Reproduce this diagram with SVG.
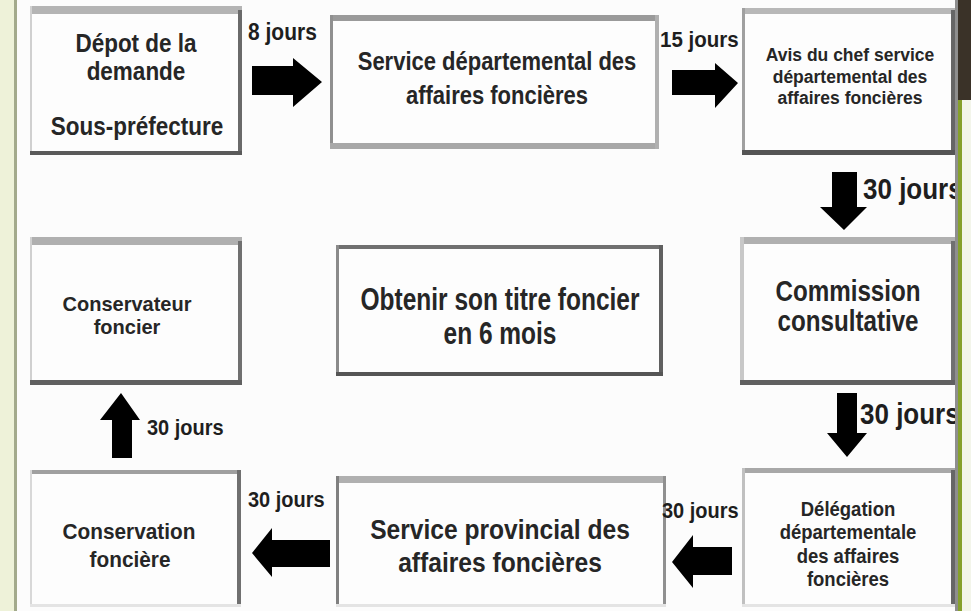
<svg xmlns="http://www.w3.org/2000/svg" width="971" height="611" viewBox="0 0 971 611">
<style>
.t{font-family:"Liberation Sans",Arial,sans-serif;font-weight:bold;fill:#262626;text-anchor:middle}
.l{font-family:"Liberation Sans",Arial,sans-serif;font-weight:bold;fill:#1e1e1e}
.box{fill:#fdfdfd}
.arr{fill:#000}
</style>
<rect x="0" y="0" width="971" height="611" fill="#fcfcfc"/>

<g id="n-depot">
<rect class="box" x="30" y="6" width="212" height="149"/>
<rect x="30" y="6" width="212" height="8" fill="#b4b4b4"/>
<rect x="30" y="6" width="2" height="149" fill="#d0d0d0"/>
<rect x="238" y="10" width="4" height="145" fill="#6a6a6a"/>
<rect x="30" y="151" width="212" height="4" fill="#5a5a5a"/>
<text class="t" font-size="22.5" transform="translate(136 52) scale(1 1.15)">Dépot de la</text>
<text class="t" font-size="22.5" transform="translate(136 80) scale(1 1.15)">demande</text>
<text class="t" font-size="22.5" transform="translate(137 135) scale(1 1.15)">Sous-préfecture</text>
</g>

<g id="n-sdaf">
<rect class="box" x="330" y="15" width="329" height="134"/>
<rect x="330" y="15" width="329" height="6" fill="#9a9a9a"/>
<rect x="330" y="15" width="3" height="134" fill="#909090"/>
<rect x="330" y="143" width="329" height="6" fill="#a8a8a8"/>
<rect x="655" y="15" width="4" height="134" fill="#b0b0b0"/>
<text class="t" font-size="22" transform="translate(497 70) scale(1 1.15)">Service départemental des</text>
<text class="t" font-size="22" transform="translate(497 104) scale(1 1.15)">affaires foncières</text>
</g>

<g id="n-avis">
<rect class="box" x="742" y="8" width="213" height="147"/>
<rect x="742" y="8" width="213" height="6" fill="#b8b8b8"/>
<rect x="742" y="8" width="3" height="147" fill="#a0a0a0"/>
<rect x="951" y="10" width="4" height="145" fill="#666"/>
<rect x="742" y="150" width="213" height="5" fill="#555"/>
<text class="t" font-size="17.5" transform="translate(850 61) scale(1 1.05)">Avis du chef service</text>
<text class="t" font-size="17.5" transform="translate(850 82.5) scale(1 1.05)">départemental des</text>
<text class="t" font-size="17.5" transform="translate(850 104) scale(1 1.05)">affaires foncières</text>
</g>

<g id="n-conservateur">
<rect class="box" x="30" y="237" width="212" height="148"/>
<rect x="30" y="237" width="212" height="8" fill="#b0b0b0"/>
<rect x="30" y="237" width="2" height="148" fill="#d0d0d0"/>
<rect x="238" y="241" width="4" height="144" fill="#707070"/>
<rect x="30" y="380" width="212" height="5" fill="#606060"/>
<text class="t" font-size="20" transform="translate(127 311) scale(1 1.05)">Conservateur</text>
<text class="t" font-size="20" transform="translate(127 334) scale(1 1.05)">foncier</text>
</g>

<g id="n-titre">
<rect class="box" x="336" y="245" width="327" height="131"/>
<rect x="336" y="245" width="327" height="4" fill="#707070"/>
<rect x="336" y="245" width="3" height="131" fill="#8a8a8a"/>
<rect x="659" y="245" width="4" height="131" fill="#606060"/>
<rect x="336" y="372" width="327" height="4" fill="#555"/>
<text class="t" font-size="24.5" transform="translate(500 310) scale(1 1.3)">Obtenir son titre foncier</text>
<text class="t" font-size="24.5" transform="translate(500 344) scale(1 1.3)">en 6 mois</text>
</g>

<g id="n-commission">
<rect class="box" x="740" y="237" width="215" height="148"/>
<rect x="740" y="237" width="215" height="7" fill="#b0b0b0"/>
<rect x="740" y="237" width="4" height="148" fill="#c8c8c8"/>
<rect x="951" y="241" width="4" height="144" fill="#707070"/>
<rect x="740" y="380" width="215" height="5" fill="#606060"/>
<text class="t" font-size="24.2" transform="translate(848 301) scale(1 1.2)">Commission</text>
<text class="t" font-size="24.2" transform="translate(848 331) scale(1 1.2)">consultative</text>
</g>

<g id="n-conservation">
<rect class="box" x="30" y="470" width="211" height="137"/>
<rect x="30" y="470" width="211" height="4" fill="#a0a0a0"/>
<rect x="30" y="470" width="2" height="137" fill="#d8d8d8"/>
<rect x="237" y="470" width="4" height="137" fill="#707070"/>
<rect x="30" y="604" width="211" height="3" fill="#e4e4e4"/>
<text class="t" font-size="20.8" transform="translate(129 539) scale(1 1.1)">Conservation</text>
<text class="t" font-size="20.8" transform="translate(130 567) scale(1 1.1)">foncière</text>
</g>

<g id="n-provincial">
<rect class="box" x="336" y="476" width="330" height="131"/>
<rect x="336" y="476" width="330" height="7" fill="#b0b0b0"/>
<rect x="336" y="476" width="3" height="131" fill="#808080"/>
<rect x="663" y="476" width="3" height="131" fill="#909090"/>
<rect x="336" y="604" width="330" height="3" fill="#e4e4e4"/>
<text class="t" font-size="24.6" transform="translate(500 539) scale(1 1.1)">Service provincial des</text>
<text class="t" font-size="24.6" transform="translate(500 572) scale(1 1.1)">affaires foncières</text>
</g>

<g id="n-delegation">
<rect class="box" x="742" y="468" width="213" height="139"/>
<rect x="742" y="468" width="213" height="5" fill="#a8a8a8"/>
<rect x="742" y="468" width="3" height="139" fill="#c0c0c0"/>
<rect x="951" y="470" width="4" height="137" fill="#666"/>
<rect x="742" y="604" width="213" height="3" fill="#e4e4e4"/>
<text class="t" font-size="18.5" transform="translate(848 516) scale(1 1.05)">Délégation</text>
<text class="t" font-size="18.5" transform="translate(848 539) scale(1 1.05)">départementale</text>
<text class="t" font-size="18.5" transform="translate(848 563) scale(1 1.05)">des affaires</text>
<text class="t" font-size="18.5" transform="translate(848 586) scale(1 1.05)">foncières</text>
</g>

<g id="connectors">
<polygon class="arr" points="252,66 293,66 293,58 322,82 293,107 293,95 252,95"/>
<text class="l" font-size="21" transform="translate(248 40) scale(1 1.1)">8 jours</text>
<polygon class="arr" points="672,70 715,70 715,63 738,83 715,108 715,95 672,95"/>
<text class="l" font-size="20.5" transform="translate(660 47) scale(1 1.1)">15 jours</text>
<polygon class="arr" points="832,172 857,172 857,207 867,207 844,230 820,207 832,207"/>
<text class="l" font-size="26" transform="translate(863 199) scale(1 1.1)">30 jours</text>
<polygon class="arr" points="837,393 857,393 857,433 867,433 847,457 827,433 837,433"/>
<text class="l" font-size="26" transform="translate(860 424) scale(1 1.1)">30 jours</text>
<polygon class="arr" points="732,547 693,547 693,535 672,562 693,588 693,575 732,575"/>
<text class="l" font-size="20" transform="translate(662 518) scale(1 1.1)">30 jours</text>
<polygon class="arr" points="330,540 272,540 272,528 252,553 272,577 272,567 330,567"/>
<text class="l" font-size="20" transform="translate(248 507) scale(1 1.1)">30 jours</text>
<polygon class="arr" points="112,458 132,458 132,420 140,420 121,393 100,420 112,420"/>
<text class="l" font-size="20" transform="translate(147 435) scale(1 1.1)">30 jours</text>
</g>

<g id="frame">
<rect x="0" y="0" width="15" height="611" fill="#eef2d9"/>
<rect x="14" y="0" width="3" height="611" fill="#a3aa8c"/>
<rect x="955" y="0" width="16" height="611" fill="#f3f5ea"/>
<rect x="955" y="0" width="3" height="611" fill="#8e8e8e"/>
<rect x="958" y="0" width="13" height="100" fill="#3a3228"/>
<rect x="958" y="100" width="4" height="511" fill="#86a02c"/>
</g>
</svg>
